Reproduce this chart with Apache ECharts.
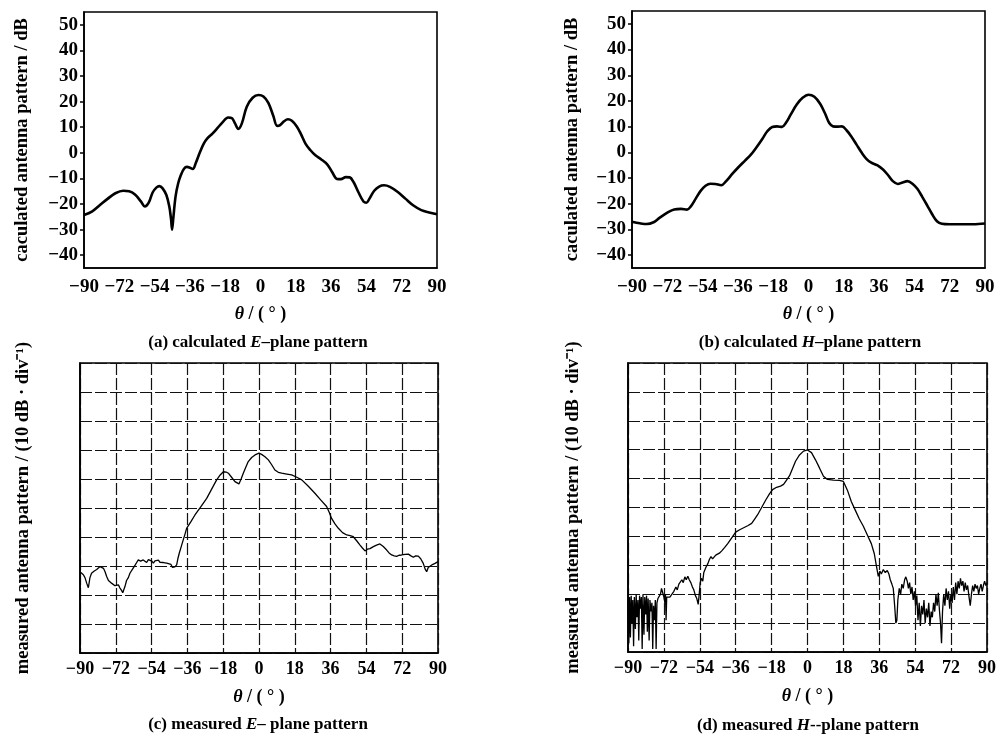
<!DOCTYPE html>
<html>
<head>
<meta charset="utf-8">
<script src="https://cdn.jsdelivr.net/npm/echarts@6/dist/echarts.min.js"></script>
<style>html,body{margin:0;padding:0;background:#fff;}#c{width:999px;height:738px;}</style>
</head>
<body>
<div id="c"></div>
<script>
// ---------- data ----------
const thetaTicks = [-90, -72, -54, -36, -18, 0, 18, 36, 54, 72, 90];
const calcYTicks = [-40, -30, -20, -10, 0, 10, 20, 30, 40, 50];

// (a) calculated E-plane pattern  [theta (deg), dB]
const eCalc = [[-90,-24.3],[-86,-23],[-82,-20.5],[-78,-18],[-74,-15.8],[-70,-14.8],[-67,-15],[-64,-16.3],[-61,-19],[-59,-21],[-57,-19.5],[-55,-15.5],[-53,-13.5],[-51.5,-13],[-50,-13.8],[-48,-16.5],[-46.5,-21],[-45.6,-26],[-45.1,-30],[-44.4,-25],[-43.3,-17],[-42,-12],[-40.5,-8.5],[-39,-6.2],[-37.5,-5.5],[-36,-5.8],[-34.5,-6.3],[-33,-4],[-31,0],[-29,3.5],[-27,5.7],[-24.5,7.5],[-22,9.6],[-19.5,11.8],[-16.5,13.8],[-14.5,13.5],[-13,11.5],[-11.3,9.3],[-9.5,11.5],[-7,18],[-4,21.5],[-1,22.6],[1.5,22],[4,19.5],[6.5,14.5],[8.5,10.5],[10,10.8],[12,12.3],[14,13.1],[16,12.5],[18.5,10.3],[20.5,7.5],[23,3.5],[25.5,1],[28,-1],[31,-2.6],[34,-4.5],[36.5,-7.5],[39,-10.2],[41,-10.3],[43.5,-9.5],[45.5,-9.6],[47.5,-11.5],[50,-15.5],[52.5,-19],[54,-19.5],[55.5,-18],[58,-14.8],[60.5,-13.2],[63,-12.7],[66,-13.3],[70,-15.3],[74,-18],[78,-20.6],[82,-22.4],[86,-23.3],[90,-24]];

// (b) calculated H-plane pattern
const hCalc = [[-90,-27],[-86,-27.6],[-82.5,-27.9],[-79,-27.2],[-76,-25.5],[-72,-23.5],[-68.5,-22.2],[-65,-22],[-62,-22.3],[-60,-21],[-57.5,-18],[-55,-15],[-52.5,-13],[-50,-12.2],[-47.5,-12.3],[-44.5,-12.8],[-42,-11.2],[-39,-8.5],[-36,-6],[-32.5,-3.3],[-29.5,-1],[-26.5,2],[-23.5,5.3],[-21,8.2],[-18.5,9.9],[-16,10.1],[-13.5,9.9],[-11.5,11.5],[-9,14.8],[-6,18.6],[-3,21.2],[0,22.4],[3,21.6],[6,18.8],[8.5,15],[10.5,11.5],[12.5,10.1],[15,10],[17,10.1],[19.5,8.5],[22,6],[24.5,3],[27,0],[29.5,-2.5],[32,-4],[35,-5],[38,-6.7],[40.5,-8.8],[43,-11.2],[45.5,-12.3],[48,-11.7],[50.5,-11.2],[53,-12.2],[55.5,-14.2],[58,-17.3],[60.5,-20.6],[63,-24],[65.5,-26.8],[68,-27.8],[72,-28],[78,-28],[84,-28],[90,-27.7]];

// (c) measured E-plane pattern (top = 0 dB, 10 dB/div)
const eMeas = [[-90,-72],[-89.2,-72.5],[-88.3,-73],[-87.5,-74],[-86.6,-76],[-85.8,-77.5],[-85,-74],[-84.2,-72.5],[-83,-71.8],[-81.6,-71.2],[-79.9,-70.2],[-78.2,-70.8],[-77.4,-72],[-76.6,-73.6],[-75.7,-75],[-74.9,-75.3],[-74,-76],[-73.2,-75.9],[-72.4,-76.8],[-71.6,-77.1],[-70.7,-76.5],[-69.9,-77.6],[-69.2,-78.3],[-68.5,-79.2],[-67.9,-78],[-67.4,-77.1],[-66.6,-75],[-65.7,-74],[-64.9,-72.5],[-63.5,-71],[-62.3,-69.7],[-61.5,-68.8],[-60.7,-67.9],[-59.5,-68.3],[-58.2,-67.9],[-57.3,-68.5],[-56.5,-68.8],[-55.6,-67.8],[-54.8,-67.4],[-53.9,-68.3],[-53.1,-69],[-52.3,-68.2],[-51.4,-68.6],[-50.6,-68],[-49.8,-68.7],[-48.9,-68.2],[-48.1,-68.8],[-47.2,-68.4],[-46.4,-69],[-45.6,-69],[-44.3,-69.4],[-43.5,-70.5],[-43.1,-70.8],[-42.3,-70.3],[-41.4,-69.6],[-40.8,-67.5],[-40.1,-65.6],[-39.1,-63.3],[-38.1,-61],[-37.2,-59],[-36.4,-57],[-34.3,-54.8],[-32.2,-52.4],[-29.2,-49.5],[-26.3,-46.7],[-23.8,-43.5],[-21.3,-40.3],[-19.5,-38.6],[-17.9,-37.5],[-16.5,-37.6],[-15.4,-38],[-13.8,-39.4],[-12.1,-40.9],[-10.1,-41.7],[-9,-40],[-7.9,-38],[-6.7,-36],[-5.4,-34],[-3.7,-32.6],[-2,-31.7],[0,-31.1],[1.3,-31.5],[3,-32.3],[4.7,-33.4],[6.3,-35],[8,-36.9],[9.7,-37.7],[11.4,-38],[14,-38.3],[16.4,-38.6],[19,-39.4],[21.5,-40.3],[24.8,-42.5],[28.1,-44.9],[31,-47.2],[34,-49.5],[35.3,-51.5],[36.5,-53.6],[38.2,-55.5],[39.9,-57],[42,-58.5],[44.1,-59.3],[45.8,-59.5],[47.4,-59.9],[49.1,-61.3],[50.8,-62.8],[52,-63.8],[53.3,-64.8],[54.5,-64.2],[55.8,-64],[57.5,-63.3],[59.1,-62.8],[60.8,-62.4],[62.5,-63.3],[64.2,-64.5],[65.4,-65.5],[66.7,-66.2],[68,-66.5],[69.2,-66.7],[70.4,-66.3],[71.7,-66.2],[73.4,-66],[75.1,-65.9],[76.4,-66.5],[77.6,-67],[78.8,-66.5],[80.1,-66.6],[81.3,-67.5],[82.6,-69.1],[83.5,-71],[84.3,-72],[85.1,-70.5],[86,-70],[87.2,-69.5],[88.5,-69.1],[90,-68.5]];

// (d) measured H-plane pattern
const hMeas = [[-90,-82],[-89.6,-97],[-89.2,-81],[-88.8,-95],[-88.4,-80.5],[-88,-90],[-87.6,-82],[-87.2,-98],[-86.8,-81],[-86.3,-92],[-85.9,-80],[-85.5,-88],[-85,-82],[-84.6,-96],[-84.2,-80.5],[-83.8,-85],[-83.3,-81],[-82.9,-99],[-82.5,-80],[-82,-94],[-81.6,-81],[-81.1,-87],[-80.7,-80.5],[-80.3,-93],[-79.9,-81.5],[-79.4,-96],[-79,-82],[-78.5,-86],[-78,-83],[-77.6,-99],[-77.2,-84],[-76.7,-89],[-76.3,-82],[-75.9,-99],[-75.5,-83],[-75,-81.5],[-74.3,-81],[-73.7,-80],[-73.2,-78],[-72.6,-79.5],[-72,-81],[-71.5,-83],[-71.2,-80],[-70.9,-89],[-70.6,-81],[-70,-81.5],[-69,-81],[-68,-80.5],[-67,-79],[-66,-77.5],[-65.3,-78.5],[-64.5,-76.5],[-63.8,-77],[-63,-75],[-62.3,-76],[-61.5,-74],[-60.8,-75],[-60,-73.8],[-59.3,-75],[-58.5,-76],[-57.7,-77.5],[-57,-78.5],[-56.2,-80.5],[-55.5,-81.5],[-54.8,-83.5],[-54.3,-80],[-53.8,-76],[-53.2,-74.5],[-52.5,-75.5],[-52,-72.5],[-51.3,-72],[-50.8,-70.5],[-50,-69.5],[-49.2,-68],[-48.4,-67],[-47.6,-67.8],[-46.8,-67.5],[-46,-66.5],[-45.2,-66.5],[-44.2,-65.8],[-43,-65],[-41.5,-63.8],[-40,-62.5],[-38,-60.5],[-36,-58.5],[-34,-57.7],[-32,-57],[-30,-56.3],[-28,-55.5],[-26.5,-54],[-25,-52.5],[-23,-50],[-21,-47.5],[-19,-45.2],[-17.5,-43.8],[-15.5,-43],[-13.5,-42.6],[-12,-42],[-10.5,-40.5],[-9,-39],[-7.5,-36.5],[-6,-34],[-4,-31.8],[-2,-30.5],[0,-30.1],[2,-31],[4,-33.5],[6,-36.3],[8,-39.2],[10,-40.3],[13,-40.5],[16,-40.6],[18,-41],[20,-44],[22,-48],[24,-51],[26,-54],[28,-56.5],[30,-59.5],[32,-62.5],[33.5,-66],[34.5,-70],[35.5,-73.8],[36.3,-72],[37,-73],[38,-71.5],[39,-72.5],[40,-71.8],[40.8,-73],[41.5,-75],[42.3,-76.5],[43,-78],[43.7,-84],[44.3,-90],[44.8,-89],[45.3,-82],[46,-78],[46.7,-80],[47.3,-76.5],[48,-78],[48.7,-75],[49.3,-74],[50,-75.5],[50.6,-78],[51.2,-76],[51.8,-80],[52.4,-77.5],[53,-82],[53.6,-79],[54.2,-84],[54.8,-80.5],[55.4,-89],[56,-83],[56.6,-91],[57.2,-84],[57.8,-87],[58.4,-82],[59,-90],[59.6,-85],[60.2,-88],[60.8,-83],[61.4,-91],[62,-86],[62.6,-88],[63.2,-83],[63.8,-86],[64.4,-80],[65,-84],[65.6,-79.5],[66.2,-86],[66.7,-90],[67.2,-97],[67.7,-86],[68.3,-80],[68.9,-84],[69.5,-78],[70.1,-82],[70.7,-79],[71.3,-85],[71.9,-80],[72.5,-83],[73.1,-77.5],[73.7,-82],[74.3,-76],[74.9,-80],[75.5,-75.5],[76.1,-78],[76.7,-74.5],[77.3,-77],[77.9,-75.5],[78.5,-79],[79.1,-76],[79.7,-78.5],[80.3,-77],[81,-81],[81.6,-84],[82.2,-80],[82.8,-77],[83.4,-79],[84,-76.5],[84.6,-78],[85.2,-77],[85.8,-80],[86.4,-78],[87,-76.5],[87.6,-79],[88.2,-77],[88.8,-75.5],[89.4,-77],[90,-76]];

const captions = [
  '(a) calculated {i|E}–plane pattern',
  '(b) calculated {i|H}–plane pattern',
  '(c) measured {i|E}– plane pattern',
  '(d) measured {i|H}--plane pattern'
];
const calcYName = 'caculated antenna pattern / dB';
const measYName = 'measured antenna pattern / (10 dB · div⁻¹)';
const thetaName = '{i|θ} / ( ° )';

// ---------- chart ----------
const FONT = 'Liberation Serif';
const chart = echarts.init(document.getElementById('c'), null, {renderer: 'canvas'});
const minus = v => String(v).replace('-', '−');
const italic = {i: {fontStyle: 'italic', fontFamily: FONT, fontWeight: 'bold', color: '#000', fontSize: 18}};

const grids = [
  {left: 84, top: 12, width: 353, height: 256},
  {left: 632, top: 11, width: 353, height: 257},
  {left: 80, top: 363, width: 358, height: 290},
  {left: 628, top: 363, width: 359, height: 289}
].map(g => Object.assign(g, {show: true, borderColor: '#000', borderWidth: 1.6, backgroundColor: 'transparent'}));

const gridLine = {show: true, lineStyle: {color: '#111', width: 1.2, type: [12, 3]}};

const xAxes = grids.map((g, i) => ({
  type: 'value', gridIndex: i, min: -90, max: 90, interval: 18,
  axisLine: {show: true, onZero: false, lineStyle: {color: '#000', width: 1.6}},
  axisTick: {show: false},
  axisLabel: {formatter: minus, fontFamily: FONT, fontWeight: 'bold', fontSize: i < 2 ? 19 : 18, color: '#000', margin: i < 2 ? 10 : 7},
  splitLine: i < 2 ? {show: false} : gridLine,
  name: thetaName, nameLocation: 'middle', nameGap: i < 2 ? 37 : 35,
  nameTextStyle: {fontFamily: FONT, fontWeight: 'bold', fontSize: 18, color: '#000', rich: italic}
}));

const yAxes = grids.map((g, i) => {
  if (i < 2) {
    return {
      type: 'value', gridIndex: i, min: -45, max: 55,
      axisLine: {show: true, onZero: false, lineStyle: {color: '#000', width: 1.6}},
      axisTick: {show: true, inside: false, length: 4, customValues: calcYTicks, lineStyle: {color: '#000', width: 1.5}},
      axisLabel: {customValues: calcYTicks, formatter: minus, fontFamily: FONT, fontWeight: 'bold', fontSize: 19, color: '#000', margin: 6},
      splitLine: {show: false},
      name: calcYName, nameLocation: 'middle', nameGap: i === 0 ? 52 : 50,
      nameTextStyle: {fontFamily: FONT, fontWeight: 'bold', fontSize: 18.5, color: '#000'}
    };
  }
  return {
    type: 'value', gridIndex: i, min: -100, max: 0, interval: 10,
    axisLine: {show: true, onZero: false, lineStyle: {color: '#000', width: 1.6}},
    axisTick: {show: false},
    axisLabel: {show: false},
    splitLine: gridLine,
    name: measYName, nameLocation: 'middle', nameGap: i === 2 ? 47 : 45,
    nameTextStyle: {fontFamily: FONT, fontWeight: 'bold', fontSize: 18.5, color: '#000'}
  };
});

const datasets = [eCalc, hCalc, eMeas, hMeas];
const series = datasets.map((d, i) => ({
  type: 'line', xAxisIndex: i, yAxisIndex: i, data: d,
  showSymbol: false, smooth: i < 2 ? 0.35 : false,
  lineStyle: {color: '#000', width: i < 2 ? 2.6 : 1.3},
  silent: true, animation: false
}));

const capPos = [[258, 343], [810, 343], [258, 725], [808, 726]];
const graphic = captions.map((t, i) => ({
  type: 'text', x: capPos[i][0], y: capPos[i][1],
  style: {
    text: t, fill: '#000', align: 'center', verticalAlign: 'middle',
    fontFamily: FONT, fontWeight: 'bold', fontSize: 17,
    rich: {i: {fontStyle: 'italic', fontFamily: FONT, fontWeight: 'bold', fontSize: 17, fill: '#000'}}
  }
}));

chart.setOption({
  animation: false,
  backgroundColor: '#fff',
  grid: grids,
  xAxis: xAxes,
  yAxis: yAxes,
  series: series,
  graphic: graphic
});
</script>
</body>
</html>
